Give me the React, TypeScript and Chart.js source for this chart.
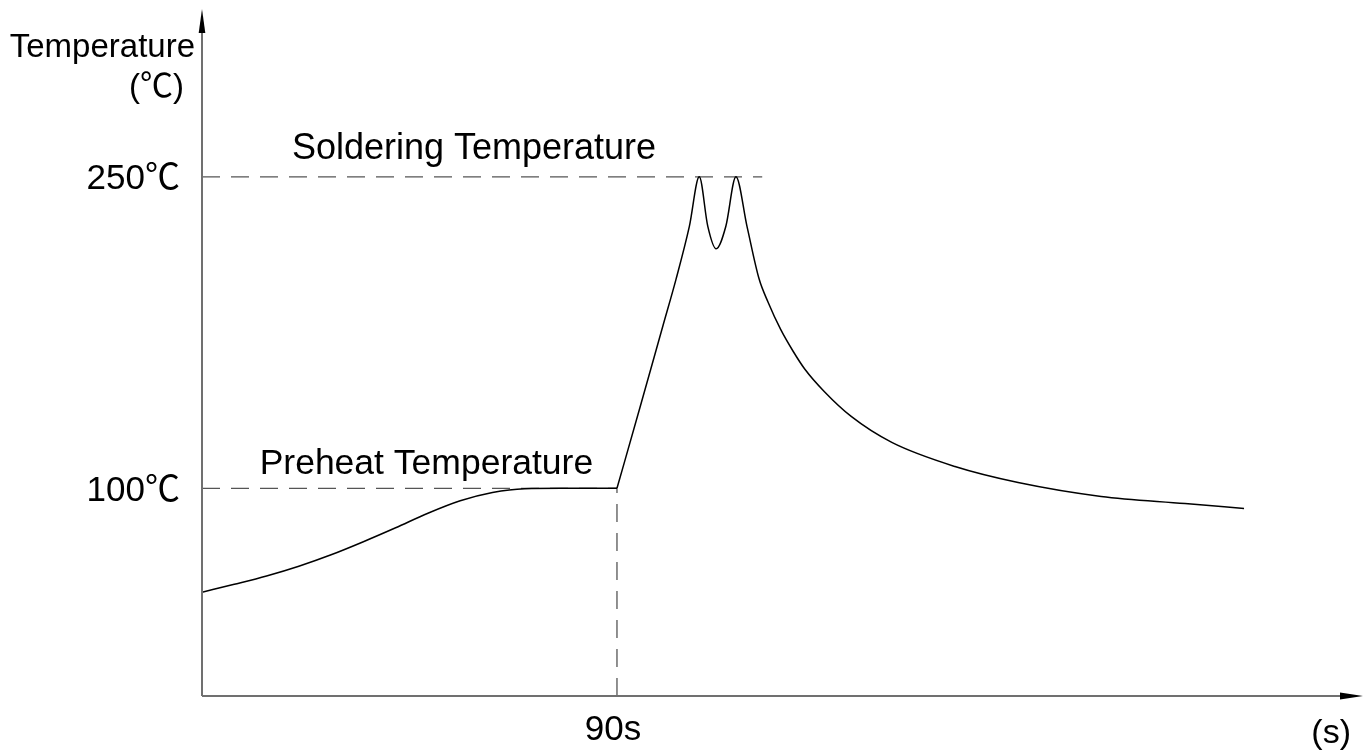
import React, { useEffect, useRef } from "react";
import { Chart, registerables } from "chart.js";

Chart.register(...registerables);

// ---- data ----
const PREHEAT_TIME = [0, 7, 14, 21, 28, 35, 42, 49, 56, 63, 70, 78, 90];
const PREHEAT_TEMP = [50, 53.8, 57.8, 62.5, 68, 74.3, 81, 88, 94, 98, 99.8, 100, 100];

const REFLOW_TIME = [90, 95, 100, 102.8, 105.7, 107.85, 109.7, 111.5, 113.6, 115.8, 118.2, 120.8, 122.8, 125.5, 128.2, 130.8, 135, 140.8, 149.6, 163.3, 177, 195, 213.2, 226];
const REFLOW_TEMP = [100, 139, 178.5, 200.6, 226.1, 250, 226.1, 215.3, 226.1, 250, 226.1, 201, 189.5, 176.5, 166, 157.2, 146.5, 134.6, 122.1, 110.5, 102.8, 96.1, 92.7, 90.3];

const PREHEAT_LEVEL = 100;
const SOLDER_LEVEL = 250;
const PREHEAT_END = 90;
const SOLDER_LINE_END = 121.5;

const Y_TICKS = [100, 250];
const X_TICKS = [90];

const X_MAX = 251.8;
const Y_MAX = 330.8;

const FONT = '"Liberation Sans", Arial, "Noto Sans CJK SC", sans-serif';

const toPts = (xs: number[], ys: number[]) => xs.map((x, i) => ({ x, y: ys[i] }));

const decorPlugin = {
  id: "decor",
  afterDatasetsDraw(chart: any) {
    const { ctx, chartArea, scales } = chart;
    const xs = scales.x;
    const ys = scales.y;
    ctx.save();
    // axes
    ctx.strokeStyle = "#707070";
    ctx.lineWidth = 2;
    ctx.beginPath();
    ctx.moveTo(chartArea.left, chartArea.bottom);
    ctx.lineTo(chartArea.right - 20, chartArea.bottom);
    ctx.moveTo(chartArea.left, chartArea.bottom);
    ctx.lineTo(chartArea.left, chartArea.top + 20);
    ctx.stroke();
    // arrow heads
    ctx.fillStyle = "#000";
    ctx.beginPath();
    ctx.moveTo(chartArea.right, chartArea.bottom);
    ctx.lineTo(chartArea.right - 23, chartArea.bottom - 3.5);
    ctx.lineTo(chartArea.right - 23, chartArea.bottom + 3.5);
    ctx.closePath();
    ctx.fill();
    ctx.beginPath();
    ctx.moveTo(chartArea.left, chartArea.top);
    ctx.lineTo(chartArea.left - 3.3, chartArea.top + 24);
    ctx.lineTo(chartArea.left + 3.3, chartArea.top + 24);
    ctx.closePath();
    ctx.fill();

    // texts
    ctx.fillStyle = "#000";
    ctx.textBaseline = "alphabetic";
    ctx.font = `33px ${FONT}`;
    ctx.textAlign = "right";
    ctx.fillText("Temperature", chartArea.left - 7, 57);
    ctx.font = `33px ${FONT}`;
    ctx.fillText("(℃)", chartArea.left - 18, 97);

    ctx.font = `36px ${FONT}`;
    ctx.textAlign = "left";
    ctx.fillText("Soldering Temperature", xs.getPixelForValue(19.5), ys.getPixelForValue(SOLDER_LEVEL) - 18);
    ctx.font = `35.5px ${FONT}`;
    ctx.fillText("Preheat Temperature", xs.getPixelForValue(12.5), ys.getPixelForValue(PREHEAT_LEVEL) - 14);

    ctx.font = `34px ${FONT}`;
    ctx.textAlign = "right";
    ctx.fillText("(s)", chartArea.right - 12, 743);
    ctx.restore();
  },
};

export default function App() {
  const ref = useRef<HTMLCanvasElement>(null);
  useEffect(() => {
    document.body.style.margin = "0";
    const canvas = ref.current!;
    const dashed = {
      borderColor: "#555",
      borderWidth: 1.3,
      borderDash: [18, 11],
      tension: 0,
      pointRadius: 0,
      fill: false,
    };
    const curve = {
      borderColor: "#000",
      borderWidth: 1.5,
      cubicInterpolationMode: "monotone",
      pointRadius: 0,
      fill: false,
    };
    const chart = new Chart(canvas, {
      type: "line",
      data: {
        datasets: [
          { ...curve, data: toPts(PREHEAT_TIME, PREHEAT_TEMP) } as any,
          { ...curve, data: toPts(REFLOW_TIME, REFLOW_TEMP) } as any,
          { ...dashed, data: [{ x: 0, y: PREHEAT_LEVEL }, { x: PREHEAT_END, y: PREHEAT_LEVEL }] },
          { ...dashed, data: [{ x: PREHEAT_END, y: 0 }, { x: PREHEAT_END, y: PREHEAT_LEVEL }] },
          { ...dashed, data: [{ x: 0, y: SOLDER_LEVEL }, { x: SOLDER_LINE_END, y: SOLDER_LEVEL }] },
        ],
      },
      options: {
        animation: false,
        responsive: false,
        devicePixelRatio: 1,
        layout: { padding: { top: 9, right: 7, left: 0, bottom: 0 } },
        plugins: { legend: { display: false }, tooltip: { enabled: false } },
        scales: {
          x: {
            type: "linear",
            min: 0,
            max: X_MAX,
            grid: { display: false, drawTicks: false },
            border: { display: false },
            afterBuildTicks: (s: any) => {
              s.ticks = X_TICKS.map((v) => ({ value: v }));
            },
            afterFit: (s: any) => {
              s.height = 57;
              s.paddingLeft = 0;
              s.paddingRight = 0;
            },
            ticks: {
              autoSkip: false,
              maxRotation: 0,
              padding: 13,
              labelOffset: -4,
              color: "#000",
              font: { family: FONT, size: 35 },
              callback: (v: any) => `${v}s`,
            },
          },
          y: {
            min: 0,
            max: Y_MAX,
            grid: { display: false, drawTicks: false },
            border: { display: false },
            afterBuildTicks: (s: any) => {
              s.ticks = Y_TICKS.map((v) => ({ value: v }));
            },
            afterFit: (s: any) => {
              s.width = 202;
              s.paddingTop = 0;
              s.paddingBottom = 0;
            },
            ticks: {
              autoSkip: false,
              padding: 22,
              labelOffset: 3,
              color: "#000",
              font: { family: FONT, size: 35 },
              callback: (v: any) => `${v}℃`,
            },
          },
        },
      } as any,
      plugins: [decorPlugin],
    });
    return () => chart.destroy();
  }, []);
  return (
    <div style={{ position: "fixed", left: 0, top: 0, width: 1370, height: 753, background: "#fff" }}>
      <canvas ref={ref} width={1370} height={753} style={{ display: "block" }} />
    </div>
  );
}
